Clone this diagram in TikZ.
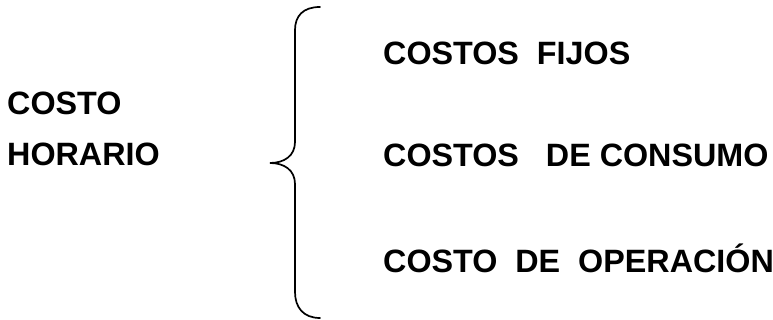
\documentclass[tikz,border=0pt]{standalone}
\usepackage{fontspec}
\setmainfont{Liberation Sans}
\usepackage{tikz}

\begin{document}
\begin{tikzpicture}[x=1pt,y=1pt,
  label/.style = {anchor=base west,inner sep=0pt,
        font=\fontsize{32.3}{39}\selectfont\bfseries},
  brace/.style = {line width=1.7pt,line cap=round}]
 \useasboundingbox (0,0) rectangle (773,320);
 \node[label] (c1) at(7,205)   {COSTO};
 \node[label] (c2) at(7,154)   {HORARIO};

 \node[label] (f)  at(383,255) {COSTOS\ \ FIJOS};
 \node[label] (k)  at(383,153) {COSTOS\ \ \ DE CONSUMO};
 \node[label] (op) at(383,47)  {COSTO\ \ DE\ \ OPERACIÓN};

 \coordinate (bt) at(320,313);
 \coordinate (bm) at(270,157);
 \coordinate (bb) at(320,2);

 \draw[brace] (bt) .. controls (303,313) and (295,304) .. (295,290)
   -- (295,178) .. controls (295,164) and (284,157) .. (bm)
   .. controls (284,157) and (295,150) .. (295,136)
   -- (295,28) .. controls (295,13) and (303,2) .. (bb);
\end{tikzpicture}
\end{document}
